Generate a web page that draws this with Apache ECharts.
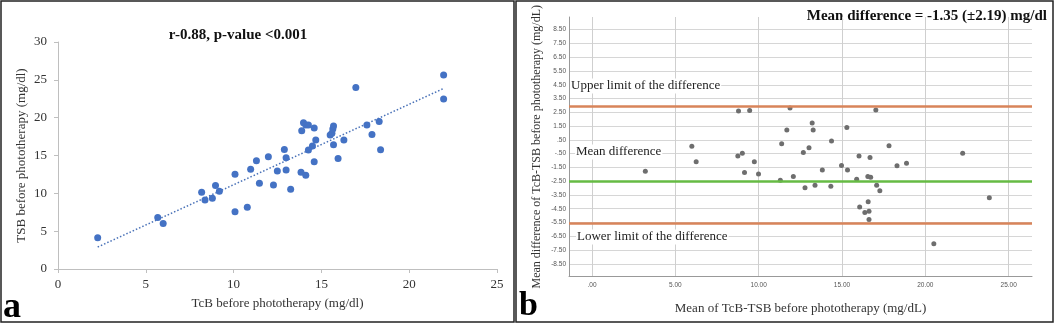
<!DOCTYPE html>
<html>
<head>
<meta charset="utf-8">
<script src="https://cdn.jsdelivr.net/npm/echarts@6/dist/echarts.min.js"></script>
<style>
html, body { margin: 0; padding: 0; background: #fff; }
#chart { width: 1055px; height: 325px; }
</style>
</head>
<body>
<div id="chart"></div>
<script>
// panel a: TcB vs TSB before phototherapy
var tcb = [2.26, 5.68, 5.99, 8.18, 8.37, 8.79, 8.97, 9.19, 10.08, 10.08, 10.78, 10.97, 11.30, 11.47, 11.98, 12.27,
    12.49, 12.89, 12.99, 12.99, 13.25, 13.84, 14.11, 13.88, 13.98, 14.11, 14.26, 14.59, 14.68, 14.49, 14.26, 14.59,
    15.50, 15.60, 15.65, 15.69, 15.69, 15.95, 16.28, 16.96, 17.59, 17.88, 18.29, 18.37, 21.96, 21.96];
var tsb = [4.13, 6.81, 6.02, 10.15, 9.13, 9.35, 11.02, 10.27, 12.51, 7.55, 8.17, 13.18, 14.32, 11.33, 14.84, 11.11,
    12.96, 15.78, 14.71, 13.09, 10.55, 12.78, 12.38, 18.27, 19.32, 19.02, 19.02, 18.62, 17.04, 16.25, 15.72, 14.18,
    17.70, 17.93, 18.49, 18.89, 16.42, 14.62, 17.04, 23.98, 19.02, 17.79, 19.50, 15.77, 25.65, 22.48];
// dotted trend line, end points
var trendX = [2.26, 22.0];
var trendY = [2.9, 23.9];

// panel b: Bland-Altman
var meanTcbTsb = [3.20, 5.99, 6.25, 8.75, 8.79, 9.02, 9.15, 9.46, 9.74, 9.99, 11.30, 11.38, 11.69, 11.88, 12.08, 12.68,
    12.78, 13.02, 13.21, 13.27, 13.38, 13.82, 14.33, 14.37, 14.97, 15.29, 15.33, 15.88, 16.02, 16.06, 16.37, 16.55,
    16.57, 16.62, 16.62, 16.68, 16.72, 17.03, 17.08, 17.27, 17.82, 18.30, 18.87, 20.51, 22.24, 23.84];
var diffTcbTsb = [-1.78, 0.03, -1.08, -0.68, 2.60, -0.48, -1.87, 2.64, -1.08, -1.97, -2.43, 0.21, 1.21, 2.81, -2.16, -0.41,
    -2.98, -0.08, 1.72, 1.21, -2.79, -1.69, -2.87, 0.42, -1.37, 1.39, -1.69, -2.36, -0.68, -4.38, -4.78, -2.16,
    -3.99, -4.68, -5.29, -0.78, -2.22, 2.66, -2.79, -3.19, 0.08, -1.38, -1.19, -7.05, -0.48, -3.70];
var limitValues = [2.95, -2.48, -5.58];
var limitColors = ['#d8845a', '#66bb44', '#d8845a'];
var xTicksB = [0, 5, 10, 15, 20, 25];
var yTicksB = [8.5, 7.5, 6.5, 5.5, 4.5, 3.5, 2.5, 1.5, 0.5, -0.5, -1.5, -2.5, -3.5, -4.5, -5.5, -6.5, -7.5, -8.5];

var serif = 'Liberation Serif';

function spssLabel(v) {
    var s = Math.abs(v).toFixed(2);
    if (s.charAt(0) === '0') s = s.slice(1);
    return (v < 0 ? '-' : '') + s;
}

var chart = echarts.init(document.getElementById('chart'));

var pointsA = tcb.map(function (x, i) { return [x, tsb[i]]; });
var trendA = trendX.map(function (x, i) { return [x, trendY[i]]; });
var pointsB = meanTcbTsb.map(function (x, i) { return [x, diffTcbTsb[i]]; });

chart.setOption({
    animation: false,
    grid: [
        { left: 58, top: 42, width: 439, height: 227 },
        { left: 569, top: 17, width: 463, height: 259.5 }
    ],
    xAxis: [{
        gridIndex: 0,
        type: 'value',
        min: 0, max: 25, interval: 5,
        name: 'TcB before phototherapy (mg/dl)',
        nameLocation: 'middle',
        nameGap: 28,
        nameTextStyle: { fontFamily: serif, fontSize: 13, color: '#333' },
        axisLine: { lineStyle: { color: '#bfbfbf' } },
        axisTick: { lineStyle: { color: '#bfbfbf' }, length: 4 },
        axisLabel: { fontFamily: serif, fontSize: 13, color: '#333', margin: 9 },
        splitLine: { show: false }
    }, {
        gridIndex: 1,
        type: 'value',
        min: -1.38, max: 26.4,
        name: 'Mean of TcB-TSB before phototherapy (mg/dL)',
        nameLocation: 'middle',
        nameGap: 26,
        nameTextStyle: { fontFamily: serif, fontSize: 13, color: '#333' },
        axisLine: { onZero: false, lineStyle: { color: '#999' } },
        axisTick: { show: false, customValues: xTicksB },
        axisLabel: { customValues: xTicksB, formatter: spssLabel, fontFamily: 'Liberation Sans', fontSize: 6.5, color: '#555', margin: 5 },
        splitLine: { show: true, lineStyle: { color: '#cfcfcf' } }
    }],
    yAxis: [{
        gridIndex: 0,
        type: 'value',
        min: 0, max: 30, interval: 5,
        name: 'TSB before phototherapy (mg/dl)',
        nameLocation: 'middle',
        nameGap: 30,
        nameTextStyle: { fontFamily: serif, fontSize: 13, color: '#333' },
        axisLine: { show: true, lineStyle: { color: '#bfbfbf' } },
        axisTick: { show: true, lineStyle: { color: '#bfbfbf' }, length: 4 },
        axisLabel: { fontFamily: serif, fontSize: 13, color: '#333', margin: 11 },
        splitLine: { show: false }
    }, {
        gridIndex: 1,
        type: 'value',
        min: -9.42, max: 9.42,
        name: 'Mean difference of TcB-TSB before phototherapy (mg/dL)',
        nameLocation: 'middle',
        nameGap: 26,
        nameTextStyle: { fontFamily: serif, fontSize: 12, color: '#333' },
        axisLine: { show: true, onZero: false, lineStyle: { color: '#999' } },
        axisTick: { show: false, customValues: yTicksB },
        axisLabel: { customValues: yTicksB, formatter: spssLabel, fontFamily: 'Liberation Sans', fontSize: 6.5, color: '#555', margin: 3 },
        splitLine: { show: true, lineStyle: { color: '#d6d6d6' } }
    }],
    series: [{
        type: 'line',
        xAxisIndex: 0, yAxisIndex: 0,
        data: trendA,
        symbol: 'none',
        lineStyle: { color: '#4a72b8', width: 1.5, type: [1.5, 2] },
        z: 1
    }, {
        type: 'scatter',
        xAxisIndex: 0, yAxisIndex: 0,
        data: pointsA,
        symbolSize: 7,
        itemStyle: { color: '#4472c4', opacity: 1 },
        z: 2
    }, {
        type: 'scatter',
        xAxisIndex: 1, yAxisIndex: 1,
        data: pointsB,
        symbolSize: 5,
        itemStyle: { color: '#6e6e6e', opacity: 1 },
        markLine: {
            silent: true,
            symbol: 'none',
            label: { show: false },
            data: limitValues.map(function (v, i) {
                return { yAxis: v, lineStyle: { color: limitColors[i], width: 2.5, type: 'solid' } };
            })
        },
        z: 3
    }],
    graphic: [
        { type: 'rect', shape: { x: 1, y: 1, width: 513, height: 321 }, style: { fill: 'none', stroke: '#222', lineWidth: 1.5 } },
        { type: 'rect', shape: { x: 516, y: 1, width: 537, height: 321 }, style: { fill: 'none', stroke: '#222', lineWidth: 1.5 } },
        { type: 'text', x: 238, y: 35, style: { text: 'r-0.88, p-value <0.001', font: 'bold 15px "Liberation Serif"', fill: '#111', align: 'center', verticalAlign: 'middle' } },
        { type: 'text', x: 1047, y: 16, style: { text: 'Mean difference = -1.35 (±2.19) mg/dl', font: 'bold 15px "Liberation Serif"', fill: '#111', align: 'right', verticalAlign: 'middle' } },
        { type: 'text', x: 570, y: 86, z: 10, style: { text: 'Upper limit of the difference', font: '13px "Liberation Serif"', fill: '#222', align: 'left', verticalAlign: 'middle', backgroundColor: '#fff', padding: [1, 1] } },
        { type: 'text', x: 575, y: 152, z: 10, style: { text: 'Mean difference', font: '13px "Liberation Serif"', fill: '#222', align: 'left', verticalAlign: 'middle', backgroundColor: '#fff', padding: [1, 1] } },
        { type: 'text', x: 576, y: 237, z: 10, style: { text: 'Lower limit of the difference', font: '13px "Liberation Serif"', fill: '#222', align: 'left', verticalAlign: 'middle', backgroundColor: '#fff', padding: [1, 1] } },
        { type: 'text', x: 3, y: 308, style: { text: 'a', font: 'bold 36px "Liberation Serif"', fill: '#000', align: 'left', verticalAlign: 'middle' } },
        { type: 'text', x: 519, y: 306, style: { text: 'b', font: 'bold 34px "Liberation Serif"', fill: '#000', align: 'left', verticalAlign: 'middle' } }
    ]
});
</script>
</body>
</html>
